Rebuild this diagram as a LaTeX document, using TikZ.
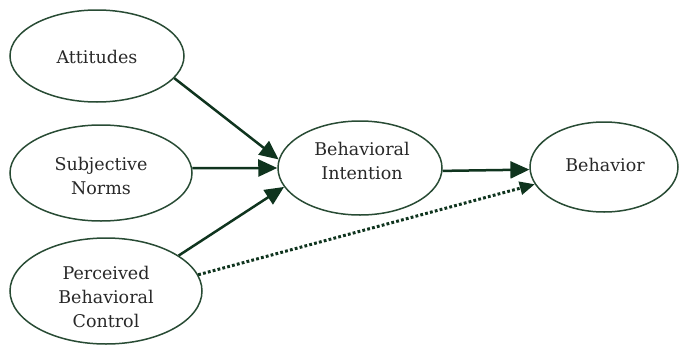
\documentclass[tikz,border=0pt]{standalone}
\usepackage{fontspec}
\setmainfont{DejaVu Serif}
\usetikzlibrary{shapes.geometric,arrows.meta}
\definecolor{ringcol}{RGB}{40,75,52}
\definecolor{arrowcol}{RGB}{15,52,30}
\definecolor{txtcol}{RGB}{40,40,40}
\tikzset{
  oval/.style={ellipse,draw=ringcol,line width=1.5pt,inner sep=0pt},
  lbl/.style={text=txtcol,align=center,font=\fontsize{17.5}{24}\selectfont,inner sep=0pt},
  link/.style={draw=arrowcol,line width=2.5pt,-{Triangle[length=19pt,width=17pt]}},
  dotlink/.style={draw=arrowcol,line width=3pt,dash pattern=on 2.8pt off 2.2pt,-{Triangle[length=15pt,width=13pt]}}
}
\begin{document}
\begin{tikzpicture}[x=1pt,y=-1pt]
\useasboundingbox (0,0) rectangle (679,348);
\node[oval,minimum width=174pt,minimum height=92pt] (att) at (97,56) {};
\node[oval,minimum width=182pt,minimum height=96pt] (sn) at (101,173) {};
\node[oval,minimum width=192pt,minimum height=106pt] (pbc) at (106,291) {};
\node[oval,minimum width=164pt,minimum height=94pt] (bi) at (360,168) {};
\node[oval,minimum width=148pt,minimum height=90pt] (beh) at (604,167) {};
\node[lbl] (att-t) at (97,57) {Attitudes};
\node[lbl] (sn-t) at (101,176) {Subjective\\Norms};
\node[lbl] (pbc-t) at (106,297) {Perceived\\Behavioral\\Control};
\node[lbl] (bi-t) at (362,161) {Behavioral\\Intention};
\node[lbl] (beh-t) at (605,165) {Behavior};
\draw[link] (att.-16) -- (bi.174);
\draw[link] (sn.3) -- (bi.180);
\draw[link] (pbc.26) -- (bi.-166);
\draw[link] (bi.-2) -- (beh.-178);
\draw[dotlink] (pbc.10) -- (beh.-166);
\end{tikzpicture}
\end{document}
